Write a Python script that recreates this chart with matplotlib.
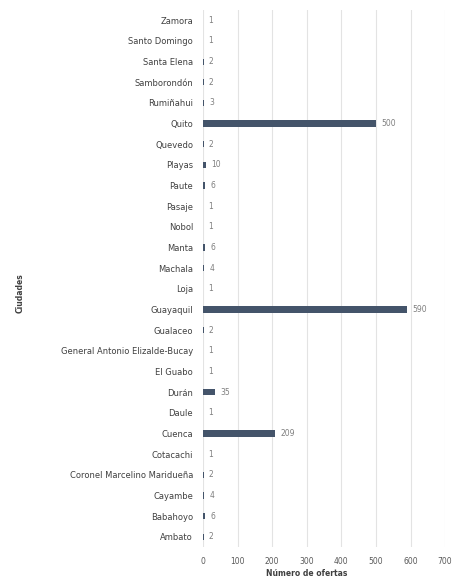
import matplotlib.pyplot as plt

# Ciudades (de abajo hacia arriba) y número de ofertas
ciudades = ["Ambato", "Babahoyo", "Cayambe", "Coronel Marcelino Maridueña", "Cotacachi",
            "Cuenca", "Daule", "Durán", "El Guabo", "General Antonio Elizalde-Bucay",
            "Gualaceo", "Guayaquil", "Loja", "Machala", "Manta", "Nobol", "Pasaje",
            "Paute", "Playas", "Quevedo", "Quito", "Rumiñahui", "Samborondón",
            "Santa Elena", "Santo Domingo", "Zamora"]
ofertas = [2, 6, 4, 2, 1, 209, 1, 35, 1, 1, 2, 590, 1, 4, 6, 1, 1, 6, 10, 2, 500, 3, 2, 2, 1, 1]

fig = plt.figure(figsize=(4.57, 5.87), dpi=100)
ax = fig.add_axes([0.444, 0.068, 0.53, 0.915])

y = range(len(ciudades))
ax.barh(y, ofertas, height=0.3, color="#44546A", zorder=3)
for yi, v in zip(y, ofertas):
    ax.text(v + 15, yi, str(v), va="center", ha="left", fontsize=5.5, color="#7f7f7f")

ax.set_yticks(list(y))
ax.set_yticklabels(ciudades, fontsize=6, color="#404040")
ax.set_ylim(-0.5, len(ciudades) - 0.5)
ax.set_xlim(0, 700)
ax.set_xticks(range(0, 701, 100))
ax.set_xticklabels([str(t) for t in range(0, 701, 100)], fontsize=5.5, color="#595959")
ax.grid(axis="x", color="#e3e3e3", linewidth=0.8, zorder=0)
ax.tick_params(length=0, pad=7)
for s in ax.spines.values():
    s.set_visible(False)

ax.set_xlabel("Número de ofertas", fontsize=5.5, fontweight="bold", color="#404040")
ax.xaxis.set_label_coords(0.43, -0.04)
fig.text(0.045, 0.5, "Ciudades", rotation=90, fontsize=5.5, fontweight="bold",
         color="#404040", va="center", ha="center")

fig.savefig("out.png", dpi=100)
